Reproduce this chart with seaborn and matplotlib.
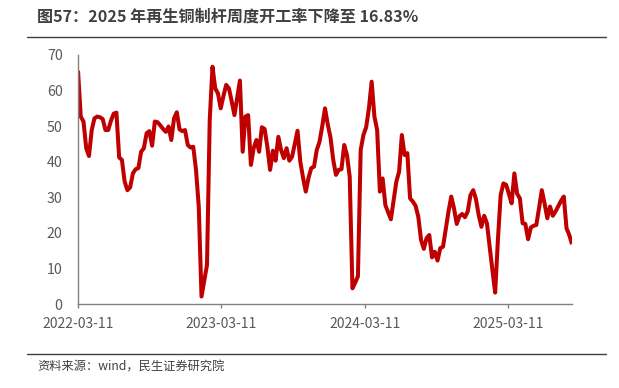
import matplotlib
matplotlib.use("Agg")
import matplotlib.pyplot as plt
import matplotlib.dates as mdates
from matplotlib.lines import Line2D
import pandas as pd
import seaborn as sns

# weekly operating rate of recycled copper rod, one value per week from 2022-03-11
start_date = "2022-03-11"
rate = [
    65.6, 52.7, 51.3, 43.8, 41.6, 48.9, 52.2, 52.7, 52.5, 52.0,
    48.9, 48.9, 51.5, 53.5, 53.8, 41.2, 40.5, 34.4, 32.0, 32.8,
    36.7, 37.9, 38.2, 42.8, 43.8, 48.0, 48.6, 44.5, 51.3, 51.1,
    50.2, 49.2, 48.4, 49.9, 46.1, 52.2, 53.9, 49.1, 48.6, 48.9,
    44.7, 44.0, 44.2, 37.7, 27.4, 2.1, 6.5, 11.0, 51.7, 66.7,
    60.6, 59.2, 55.0, 58.5, 61.6, 60.6, 57.0, 53.1, 58.0, 62.8,
    42.8, 52.7, 53.1, 39.1, 43.8, 46.1, 42.8, 49.7, 49.2, 44.2,
    37.7, 43.1, 40.3, 47.0, 43.3, 41.0, 43.8, 40.3, 41.4, 45.0,
    48.7, 40.0, 35.5, 31.6, 35.5, 38.2, 38.6, 43.3, 45.6, 50.0,
    55.0, 50.5, 46.8, 40.5, 36.3, 37.7, 37.9, 44.7, 41.9, 35.8,
    4.4, 6.0, 7.8, 43.3, 47.5, 49.7, 55.0, 62.5, 52.7, 48.9,
    31.6, 35.3, 27.8, 25.8, 23.8, 29.0, 34.4, 37.2, 47.5, 41.9,
    42.4, 29.7, 28.8, 27.6, 24.5, 18.0, 15.5, 18.5, 19.4, 13.1,
    14.7, 12.2, 15.7, 16.1, 21.0, 26.0, 30.2, 26.9, 22.5, 24.7,
    25.3, 24.4, 26.0, 30.6, 32.0, 29.5, 25.0, 21.7, 24.8, 22.7,
    16.0, 9.5, 3.2, 18.0, 30.6, 33.9, 33.5, 31.0, 28.3, 36.7,
    31.0, 29.7, 22.7, 22.5, 18.2, 21.5, 22.0, 22.2, 27.0, 32.0,
    28.3, 24.1, 27.4, 24.8, 26.0, 27.5, 29.0, 30.2, 21.3, 19.4,
    16.83,
]
tick_dates = ["2022-03-11", "2023-03-11", "2024-03-11", "2025-03-11"]
y_ticks = [0, 10, 20, 30, 40, 50, 60, 70]

title = "图57：2025 年再生铜制杆周度开工率下降至 16.83%"
source = "资料来源：wind，民生证券研究院"

df = pd.DataFrame({
    "date": pd.date_range(start_date, periods=len(rate), freq="7D"),
    "rate": rate,
})

sns.set_theme(style="white")
plt.rcParams["font.family"] = ["Noto Sans CJK SC", "DejaVu Sans"]

fig = plt.figure(figsize=(6.19, 3.88), dpi=100)
ax = fig.add_axes([78 / 619, 1 - 304 / 388, 494 / 619, 249 / 388])

sns.lineplot(data=df, x="date", y="rate", ax=ax, color="#C00000", linewidth=2.9,
             solid_joinstyle="round", solid_capstyle="butt")

ax.set_xlim(df["date"].iloc[0], df["date"].iloc[-1])
ax.set_ylim(0, 70)
ax.set_yticks(y_ticks)
ax.set_xticks(pd.to_datetime(tick_dates))
ax.xaxis.set_major_formatter(mdates.DateFormatter("%Y-%m-%d"))
ax.set_xlabel("")
ax.set_ylabel("")

for side in ["top", "right"]:
    ax.spines[side].set_visible(False)
for side in ["left", "bottom"]:
    ax.spines[side].set_color("#808080")
    ax.spines[side].set_linewidth(1.0)

ax.tick_params(axis="y", length=0, pad=11, labelsize=10.2, labelcolor="#595959")
ax.tick_params(axis="x", length=3, width=1, color="#808080", direction="out",
               pad=6, labelsize=10, labelcolor="#595959", bottom=True)

fig.text(37 / 619, 1 - 17 / 388, title, fontsize=11.6, fontweight="bold",
         color="#404040", va="center", ha="left")
fig.add_artist(Line2D([27 / 619, 606 / 619], [1 - 37 / 388, 1 - 37 / 388],
                      color="#404040", linewidth=1.0))
fig.add_artist(Line2D([27 / 619, 606 / 619], [1 - 354 / 388, 1 - 354 / 388],
                      color="#404040", linewidth=1.0))
fig.text(37 / 619, 1 - 367 / 388, source, fontsize=8.8, color="#404040",
         va="center", ha="left")

fig.savefig("out.png", dpi=100)
